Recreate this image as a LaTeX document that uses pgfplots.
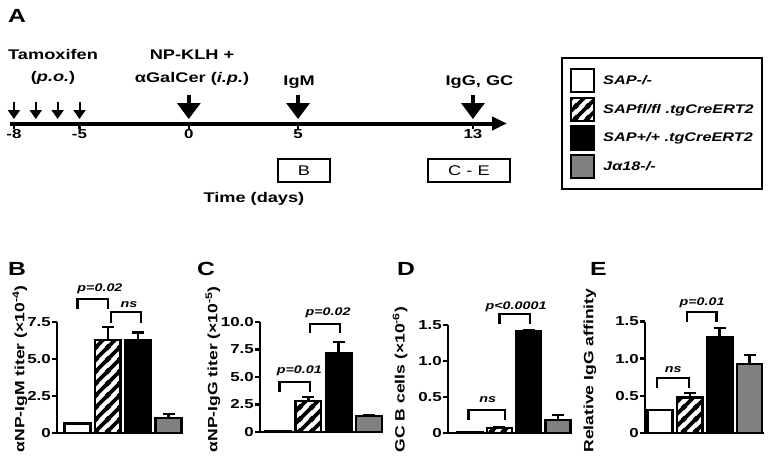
\documentclass[border=0pt]{standalone}
\usepackage{fontspec}
\setmainfont{Liberation Sans}[FakeStretch=1.3]
\usepackage{pgfplots}
\pgfplotsset{compat=1.18}
\usetikzlibrary{arrows.meta,patterns.meta}

\newcommand\fs[1]{\fontsize{#1}{#1}\selectfont\bfseries}

% thick diagonal hatch used for the SAPfl/fl bars
\tikzdeclarepattern{
  name=fatstripes,
  type=uncolored,
  bounding box={(0pt,0pt) and (12pt,12pt)},
  tile size={(12pt,12pt)},
  code={
    \draw[line width=4pt] (-3pt,-3pt) -- (15pt,15pt);
    \draw[line width=4pt] (-3pt,9pt) -- (3pt,15pt);
    \draw[line width=4pt] (9pt,-3pt) -- (15pt,3pt);
  }
}

\pgfplotsset{
  barpanel/.style={
    anchor=south west, scale only axis,
    axis x line*=bottom, axis y line*=left,
    axis line style={line width=2.5pt},
    ymin=0, xtick=\empty, clip=false,
    tick align=outside, major tick length=5pt,
    ytick style={line width=2.5pt, black},
    yticklabel style={font=\fs{13}, inner sep=1pt},
    ylabel style={font=\fs{13.5}, anchor=west},
    ybar, bar width=0.85, bar shift=0pt,
  },
  barw/.style={fill=white, draw=black, line width=2.5pt},
  barh/.style={pattern=fatstripes, draw=black, line width=2.5pt},
  barb/.style={fill=black, draw=black, line width=2.5pt},
  barg/.style={fill=black!50, draw=black, line width=2.5pt},
  eb/.style={error bars/y dir=plus, error bars/y explicit,
    error bars/error bar style={line width=2.5pt, black},
    error bars/error mark options={rotate=90, mark size=6pt, line width=2.5pt, black}},
}
\tikzset{
  brk/.style={line width=2.5pt, line join=miter},
  pv/.style={font=\fs{11}\itshape, anchor=base, inner sep=0pt},
  tl/.style={font=\fs{14}, anchor=base, inner sep=0pt},
  tbox/.style={draw, line width=1.5pt, minimum height=23pt, inner sep=0pt,
    font=\fontsize{14}{14}\selectfont},
}

\begin{document}
\begin{tikzpicture}
\useasboundingbox (0,0) rectangle (771pt,-466pt);

% ---------- A: timeline ----------
\begin{axis}[
  at={(10pt,-123.5pt)}, anchor=south west, scale only axis,
  width=497pt, height=100pt,
  xmin=-8.18, xmax=14.56, ymin=0, ymax=1, clip=false,
  axis x line=bottom, axis y line=none,
  x axis line style={line width=4pt, -{Triangle[length=15pt,width=13pt]}},
  xtick={-8,-5,0,5,13}, xticklabels={-8,-5,0,5,13},
  tick align=outside, major tick length=5pt,
  xtick style={line width=2.5pt, black},
  xticklabel style={font=\fs{13}, inner sep=1pt},
  legend cell align=left,
  legend image code/.code={\draw[#1] (0pt,-11.5pt) rectangle (23pt,11.5pt);},
  legend style={at={(rel axis cs:1.1087,0.665)}, anchor=north west,
    draw=black, line width=2pt, font=\fs{12.5}\itshape,
    inner xsep=8pt, inner ysep=10pt, row sep=3.5pt, nodes={inner sep=0pt},
    /tikz/every odd column/.append style={column sep=8pt}},
]
\addplot[forget plot, black, line width=2pt, -{Triangle[length=9pt,width=12pt]},
  quiver={u=0, v=\thisrow{v}}] table {
x y v
-8 0.215 -0.17
-7 0.215 -0.17
-6 0.215 -0.17
-5 0.215 -0.17
};
\addplot[forget plot, black, line width=3.5pt, -{Triangle[length=16pt,width=23pt]},
  quiver={u=0, v=\thisrow{v}}] table {
x y v
0 0.285 -0.24
5 0.285 -0.24
13 0.285 -0.24
};
\addlegendimage{fill=white, draw=black, line width=2.2pt}
\addlegendentry{SAP-/-}
\addlegendimage{pattern=fatstripes, draw=black, line width=2.2pt}
\addlegendentry{SAPfl/fl .tgCreERT2}
\addlegendimage{fill=black, draw=black, line width=2.2pt}
\addlegendentry{SAP+/+ .tgCreERT2}
\addlegendimage{fill=black!50, draw=black, line width=2.2pt}
\addlegendentry{Jα18-/-}

\node[tl] at (axis cs:-6.21,0.645) {Tamoxifen};
\node[tl] at (axis cs:-6.21,0.425) {(\textit{p.o.})};
\node[tl] at (axis cs:0.15,0.645) {NP-KLH +};
\node[tl] at (axis cs:0.15,0.415) {αGalCer (\textit{i.p.})};
\node[tl] at (axis cs:5.05,0.385) {IgM};
\node[tl] at (axis cs:13.3,0.385) {IgG, GC};
\node[tl] at (axis cs:2.98,-0.785) {Time (days)};
\node[tbox, minimum width=52pt] at (axis cs:5.27,-0.47) {B};
\node[tbox, minimum width=82pt] at (axis cs:12.82,-0.47) {C - E};
\end{axis}

% ---------- B ----------
\begin{axis}[barpanel, at={(57pt,-433pt)}, width=126pt, height=111pt,
  xmin=0.324, xmax=4.478, ymax=7.5,
  ytick={0,2.5,5,7.5}, yticklabels={0,2.5,5.0,7.5},
  ylabel={αNP-IgM titer (×10\textsuperscript{-4})},
  ylabel style={at={(axis description cs:-0.294,-0.207)}}]
\addplot[barw] coordinates {(1,0.65)};
\addplot[barh, eb] coordinates {(2,6.3) +- (0,0.85)};
\addplot[barb, eb] coordinates {(3,6.3) +- (0,0.5)};
\addplot[barg, eb] coordinates {(4,1.0) +- (0,0.3)};
\draw[brk] (axis cs:1,8.38) |- (axis cs:2,9.05) -- (axis cs:2,8.38);
\node[pv] at (axis cs:1.74,9.53) {p=0.02};
\draw[brk] (axis cs:2.1,7.43) |- (axis cs:3.1,8.18) -- (axis cs:3.1,7.43);
\node[pv] at (axis cs:2.7,8.51) {ns};
\end{axis}

% ---------- C ----------
\begin{axis}[barpanel, at={(260pt,-432pt)}, width=123pt, height=110pt,
  xmin=0.407, xmax=4.46, ymax=10,
  ytick={0,2.5,5,7.5,10}, yticklabels={0,2.5,5.0,7.5,10.0},
  ylabel={αNP-IgG titer (×10\textsuperscript{-5})},
  ylabel style={at={(axis description cs:-0.382,-0.218)}}]
\addplot[barw] coordinates {(1,0.08)};
\addplot[barh, eb] coordinates {(2,2.82) +- (0,0.36)};
\addplot[barb, eb] coordinates {(3,7.18) +- (0,1.0)};
\addplot[barg, eb] coordinates {(4,1.45) +- (0,0.05)};
\draw[brk] (axis cs:1.05,3.64) |- (axis cs:2.05,4.55) -- (axis cs:2.05,3.64);
\node[pv] at (axis cs:1.7,5.36) {p=0.01};
\draw[brk] (axis cs:2.05,9.0) |- (axis cs:3.05,9.82) -- (axis cs:3.05,9.0);
\node[pv] at (axis cs:2.65,10.6) {p=0.02};
\end{axis}

% ---------- D ----------
\begin{axis}[barpanel, at={(448pt,-433pt)}, width=124pt, height=108pt,
  xmin=0.25, xmax=4.477, ymax=1.5,
  ytick={0,0.5,1,1.5}, yticklabels={0,0.5,1.0,1.5},
  ylabel={GC B cells (×10\textsuperscript{-6})},
  ylabel style={at={(axis description cs:-0.387,-0.213)}}]
\addplot[barw] coordinates {(1,0.01)};
\addplot[barh, eb] coordinates {(2,0.07) +- (0,0.015)};
\addplot[barb, eb] coordinates {(3,1.42) +- (0,0.01)};
\addplot[barg, eb] coordinates {(4,0.18) +- (0,0.07)};
\draw[brk] (axis cs:0.95,0.18) |- (axis cs:2.2,0.32) -- (axis cs:2.2,0.18);
\node[pv] at (axis cs:1.6,0.43) {ns};
\draw[brk] (axis cs:2.0,1.51) |- (axis cs:3.05,1.65) -- (axis cs:3.05,1.51);
\node[pv] at (axis cs:2.57,1.72) {p<0.0001};
\end{axis}

% ---------- E ----------
\begin{axis}[barpanel, at={(645pt,-433pt)}, width=119pt, height=111.5pt,
  xmin=0.497, xmax=4.486, ymax=1.5,
  ytick={0,0.5,1,1.5}, yticklabels={0,0.5,1.0,1.5},
  ylabel={Relative IgG affinity},
  ylabel style={at={(axis description cs:-0.462,-0.207)}}]
\addplot[barw] coordinates {(1,0.31)};
\addplot[barh, eb] coordinates {(2,0.48) +- (0,0.06)};
\addplot[barb, eb] coordinates {(3,1.29) +- (0,0.12)};
\addplot[barg, eb] coordinates {(4,0.93) +- (0,0.12)};
\draw[brk] (axis cs:0.9,0.61) |- (axis cs:1.97,0.74) -- (axis cs:1.97,0.61);
\node[pv] at (axis cs:1.44,0.82) {ns};
\draw[brk] (axis cs:1.9,1.5) |- (axis cs:2.9,1.63) -- (axis cs:2.9,1.5);
\node[pv] at (axis cs:2.41,1.71) {p=0.01};
\end{axis}

% panel letters
\node[anchor=base west, inner sep=0pt, font=\fs{19}] at (8pt,-22pt) {A};
\node[anchor=base west, inner sep=0pt, font=\fs{19}] at (8pt,-275pt) {B};
\node[anchor=base west, inner sep=0pt, font=\fs{19}] at (197pt,-275pt) {C};
\node[anchor=base west, inner sep=0pt, font=\fs{19}] at (397pt,-275pt) {D};
\node[anchor=base west, inner sep=0pt, font=\fs{19}] at (590pt,-275pt) {E};
\end{tikzpicture}
\end{document}
